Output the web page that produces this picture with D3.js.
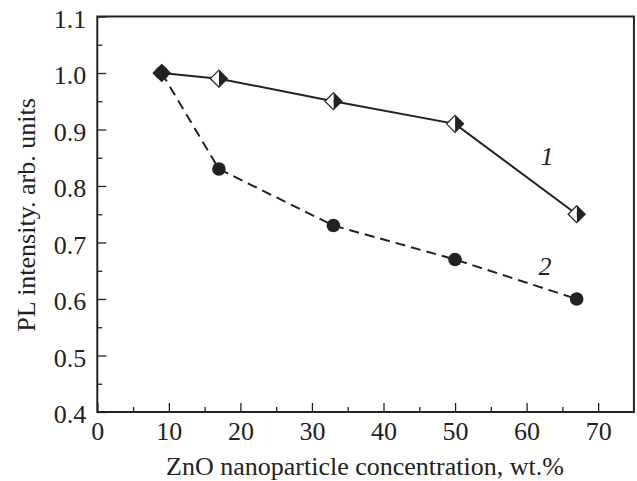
<!DOCTYPE html>
<html><head><meta charset="utf-8">
<script src="https://cdn.jsdelivr.net/npm/d3@7"></script>
<style>body{margin:0;background:#fff}svg{display:block}text{font-family:"Liberation Serif","Times New Roman",serif;fill:#222}</style>
</head><body><svg id="c" width="637" height="481"></svg>
<script>
const xVals1 = [9, 17, 33, 50, 67];
const series1 = [1.00, 0.99, 0.95, 0.91, 0.75];
const xVals2 = [9, 17, 33, 50, 67];
const series2 = [1.00, 0.83, 0.73, 0.67, 0.60];
const xTicks = [0, 10, 20, 30, 40, 50, 60, 70];
const yTicks = [0.4, 0.5, 0.6, 0.7, 0.8, 0.9, 1.0, 1.1];
const xTitle = "ZnO nanoparticle concentration, wt.%";
const yTitle = "PL intensity. arb. units";
const seriesLabels = ["1", "2"];

const svg = d3.select("#c");
const L = 97.3, R = 634, T = 16.5, B = 412;
const FS = 26;
const x = d3.scaleLinear().domain([0, 75]).range([L, L + 75 * 7.155]);
const y = d3.scaleLinear().domain([0.4, 1.1]).range([B, T]);
const ink = "#222";
const FF = "Liberation Serif, Times New Roman, serif";

// frame
svg.append("rect").attr("x", L).attr("y", T).attr("width", x(75) - L).attr("height", B - T)
  .attr("fill", "none").attr("stroke", ink).attr("stroke-width", 2);

// x axis
const xa = svg.append("g").attr("transform", `translate(0,${B})`)
  .call(d3.axisBottom(x).tickValues(xTicks).tickFormat(d3.format("d")).tickSizeInner(-9).tickSizeOuter(0).tickPadding(9.5));
xa.attr("font-family", FF);
xa.select(".domain").remove();
xa.selectAll("line").attr("stroke", ink).attr("stroke-width", 1.3);
xa.selectAll("text").attr("font-size", FS).attr("fill", ink);
const xm = svg.append("g").attr("transform", `translate(0,${B})`)
  .call(d3.axisBottom(x).tickValues(d3.range(5, 75, 10)).tickFormat("").tickSizeInner(-5).tickSizeOuter(0));
xm.select(".domain").remove();
xm.selectAll("line").attr("stroke", ink).attr("stroke-width", 1.3);

// y axis
const ya = svg.append("g").attr("transform", `translate(${L},0)`)
  .call(d3.axisLeft(y).tickValues(yTicks).tickFormat(d3.format(".1f")).tickSizeInner(-9).tickSizeOuter(0).tickPadding(11));
ya.attr("font-family", FF);
ya.select(".domain").remove();
ya.selectAll("line").attr("stroke", ink).attr("stroke-width", 1.3);
ya.selectAll("text").attr("font-size", FS).attr("fill", ink).attr("dy", "0.42em");
const ym = svg.append("g").attr("transform", `translate(${L},0)`)
  .call(d3.axisLeft(y).tickValues(d3.range(0.45, 1.1, 0.1)).tickFormat("").tickSizeInner(-5).tickSizeOuter(0));
ym.select(".domain").remove();
ym.selectAll("line").attr("stroke", ink).attr("stroke-width", 1.3);

// titles
svg.append("text").attr("x", 365).attr("y", 475).attr("text-anchor", "middle")
  .attr("font-family", FF).attr("font-size", FS).text(xTitle);
svg.append("text").attr("transform", `translate(35,215) rotate(-90)`).attr("text-anchor", "middle")
  .attr("font-family", FF).attr("font-size", FS).text(yTitle);

// lines
const d1 = xVals1.map((v, i) => [v, series1[i]]);
const d2 = xVals2.map((v, i) => [v, series2[i]]);
const line = d3.line().x(d => x(d[0])).y(d => y(d[1]));
svg.append("path").datum(d2).attr("d", line).attr("fill", "none").attr("stroke", ink)
  .attr("stroke-width", 2).attr("stroke-dasharray", "10,6");
svg.append("path").datum(d1).attr("d", line).attr("fill", "none").attr("stroke", ink)
  .attr("stroke-width", 2);

// half-filled diamonds
const s = 8.5;
const g1 = svg.selectAll("g.s1").data(d1).enter().append("g")
  .attr("transform", d => `translate(${x(d[0])},${y(d[1])})`);
g1.append("path").attr("d", `M0,${-s}L${s},0L0,${s}Z`).attr("fill", ink);
g1.append("path").attr("d", `M0,${-s}L${-s},0L0,${s}Z`).attr("fill", (d, i) => i === 0 ? ink : "#fff");
g1.append("path").attr("d", `M0,${-s}L${s},0L0,${s}L${-s},0Z`).attr("fill", "none").attr("stroke", ink).attr("stroke-width", 1.2);

// circles
svg.selectAll("circle.s2").data(d2).enter().append("circle")
  .attr("cx", d => x(d[0])).attr("cy", d => y(d[1])).attr("r", 6.8).attr("fill", ink);

// series labels
svg.append("text").attr("x", 547).attr("y", 165).attr("font-family", FF).attr("font-size", FS).attr("font-style", "italic").attr("text-anchor", "middle").text(seriesLabels[0]);
svg.append("text").attr("x", 545).attr("y", 275).attr("font-family", FF).attr("font-size", FS).attr("font-style", "italic").attr("text-anchor", "middle").text(seriesLabels[1]);
</script></body></html>
